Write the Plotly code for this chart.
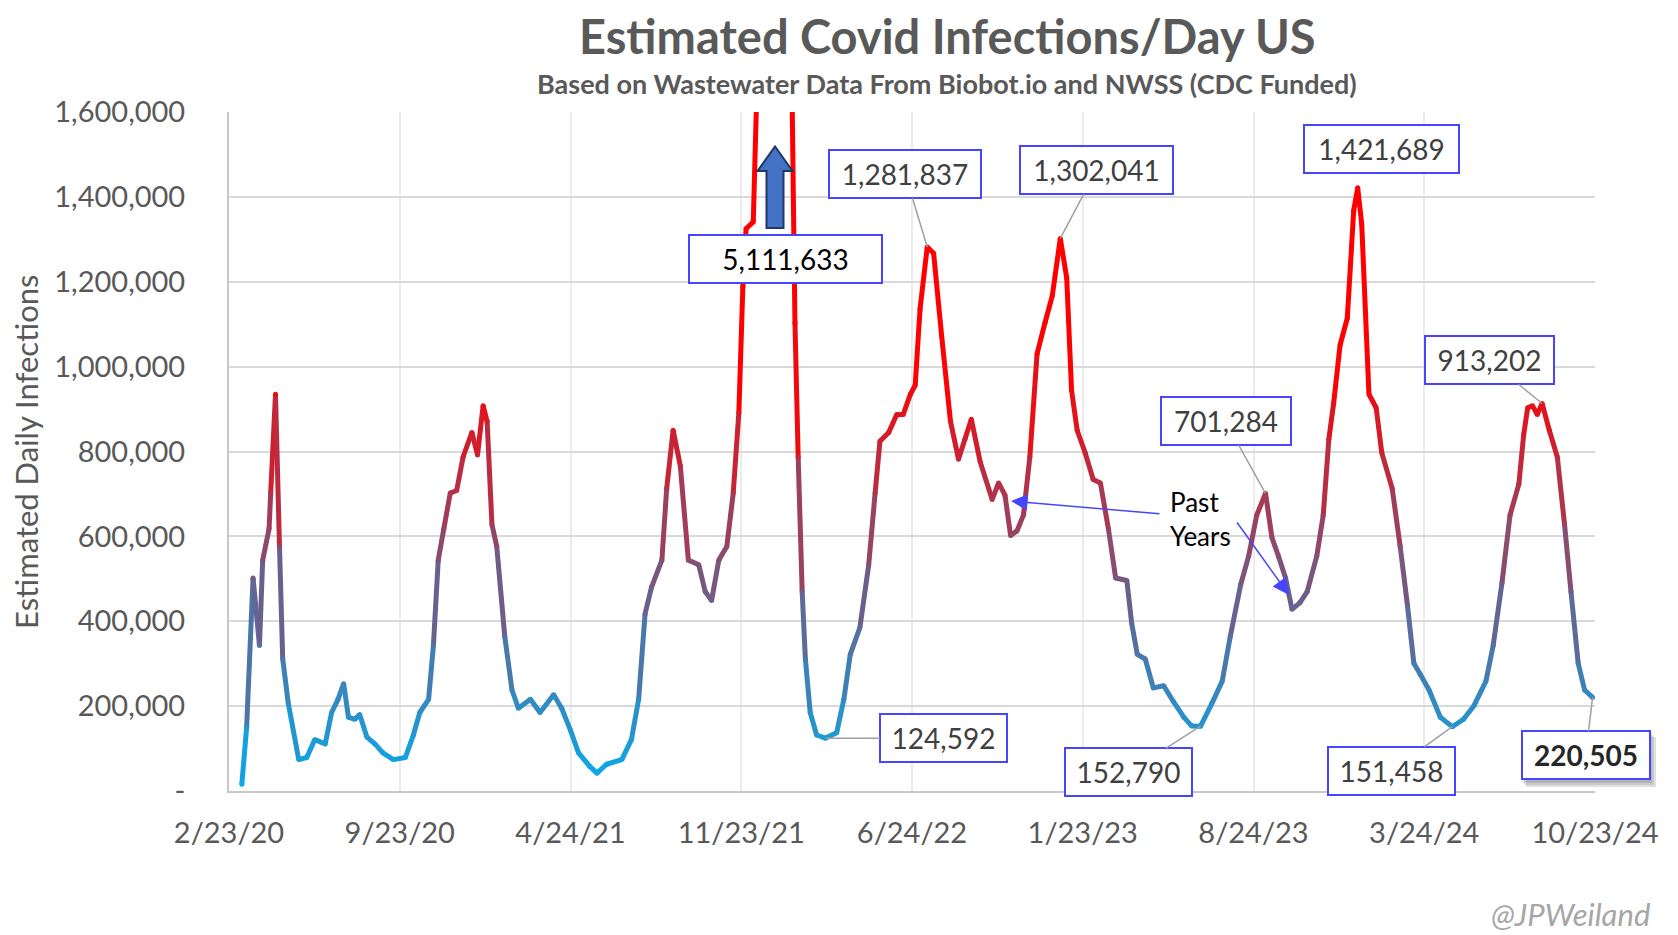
import plotly.graph_objects as go

# ---------------- data ----------------
dates = [
    "2020-03-10", "2020-03-16", "2020-03-24", "2020-04-01", "2020-04-05", "2020-04-13", "2020-04-15",
    "2020-04-21", "2020-04-26", "2020-04-30", "2020-05-07", "2020-05-20", "2020-05-30", "2020-06-09",
    "2020-06-22", "2020-06-30", "2020-07-08", "2020-07-15", "2020-07-21", "2020-07-29", "2020-08-04",
    "2020-08-13", "2020-08-23", "2020-09-02", "2020-09-15", "2020-09-30", "2020-10-10", "2020-10-18",
    "2020-10-29", "2020-11-04", "2020-11-10", "2020-11-17", "2020-11-25", "2020-12-03", "2020-12-11",
    "2020-12-22", "2020-12-29", "2021-01-05", "2021-01-10", "2021-01-16", "2021-01-22", "2021-02-01",
    "2021-02-10", "2021-02-18", "2021-03-05", "2021-03-17", "2021-04-03", "2021-04-13", "2021-04-24",
    "2021-05-04", "2021-05-18", "2021-05-27", "2021-06-08", "2021-06-27", "2021-07-09", "2021-07-18",
    "2021-07-26", "2021-08-03", "2021-08-16", "2021-08-22", "2021-08-30", "2021-09-08", "2021-09-18",
    "2021-10-01", "2021-10-09", "2021-10-17", "2021-10-26", "2021-11-05", "2021-11-13", "2021-11-20",
    "2021-11-25", "2021-11-29", "2021-12-08", "2021-12-12", "2021-12-19", "2022-01-06", "2022-01-18",
    "2022-01-25", "2022-01-29", "2022-02-02", "2022-02-07", "2022-02-11", "2022-02-17", "2022-02-25",
    "2022-03-08", "2022-03-22", "2022-03-31", "2022-04-08", "2022-04-20", "2022-05-01", "2022-05-09",
    "2022-05-15", "2022-05-26", "2022-06-05", "2022-06-13", "2022-06-22", "2022-06-28", "2022-07-04",
    "2022-07-13", "2022-07-21", "2022-07-31", "2022-08-11", "2022-08-21", "2022-08-29", "2022-09-06",
    "2022-09-17", "2022-10-02", "2022-10-10", "2022-10-18", "2022-10-25", "2022-11-02", "2022-11-10",
    "2022-11-18", "2022-11-27", "2022-12-07", "2022-12-16", "2022-12-26", "2023-01-03", "2023-01-09",
    "2023-01-16", "2023-01-26", "2023-02-05", "2023-02-14", "2023-02-24", "2023-03-05", "2023-03-19",
    "2023-03-25", "2023-04-01", "2023-04-11", "2023-04-21", "2023-05-04", "2023-05-16", "2023-05-29",
    "2023-06-08", "2023-06-19", "2023-07-03", "2023-07-16", "2023-07-26", "2023-08-08", "2023-08-18",
    "2023-08-28", "2023-09-08", "2023-09-16", "2023-09-24", "2023-10-03", "2023-10-11", "2023-10-21",
    "2023-10-30", "2023-11-11", "2023-11-19", "2023-11-26", "2023-12-02", "2023-12-10", "2023-12-19",
    "2023-12-27", "2024-01-01", "2024-01-06", "2024-01-15", "2024-01-24", "2024-01-31", "2024-02-13",
    "2024-02-23", "2024-03-03", "2024-03-11", "2024-03-19", "2024-03-30", "2024-04-13", "2024-04-28",
    "2024-05-12", "2024-05-25", "2024-06-09", "2024-06-18", "2024-06-29", "2024-07-09", "2024-07-20",
    "2024-07-26", "2024-07-31", "2024-08-06", "2024-08-12", "2024-08-18", "2024-08-27", "2024-09-06",
    "2024-09-15", "2024-09-23", "2024-10-02", "2024-10-10", "2024-10-20",
]
infections = [
    16000, 150000, 502000, 343000, 544000, 618000, 702000,
    935000, 576000, 311000, 206000, 74000, 79000, 121000,
    111000, 185000, 216000, 253000, 174000, 169000, 180000,
    127000, 111000, 90000, 74000, 79000, 132000, 185000,
    216000, 343000, 544000, 618000, 702000, 708000, 787000,
    845000, 792000, 908000, 871000, 628000, 576000, 364000,
    238000, 195000, 216000, 185000, 227000, 195000, 143000,
    90000, 58000, 42000, 63000, 74000, 121000, 216000,
    417000, 480000, 544000, 713000, 850000, 766000, 544000,
    533000, 470000, 449000, 544000, 576000, 702000, 892000,
    1188000, 1325000, 1341000, 1620000, 3200000, 5111633, 3000000,
    1700000, 1103000, 787000, 470000, 311000, 185000, 132000,
    124592, 137000, 216000, 322000, 385000, 533000, 702000,
    824000, 845000, 887000, 887000, 935000, 956000, 1135000,
    1281837, 1267000, 1072000, 871000, 782000, 829000, 876000,
    776000, 687000, 726000, 697000, 602000, 613000, 650000,
    787000, 1030000, 1104000, 1167000, 1302041, 1209000, 945000,
    850000, 797000, 734000, 726000, 618000, 502000, 496000,
    396000, 322000, 311000, 243000, 248000, 211000, 174000,
    153000, 152790, 206000, 259000, 364000, 486000, 554000,
    650000, 701284, 597000, 554000, 502000, 428000, 444000,
    470000, 554000, 650000, 829000, 914000, 1051000, 1114000,
    1368000, 1421689, 1336000, 935000, 903000, 797000, 713000,
    576000, 438000, 301000, 275000, 238000, 174000, 151458,
    169000, 201000, 259000, 343000, 491000, 650000, 723000,
    839000, 903000, 908000, 887000, 913202, 850000, 787000,
    628000, 470000, 301000, 238000, 220505,
]

x_tick_dates = ["2020-02-23", "2020-09-23", "2021-04-24", "2021-11-23", "2022-06-24",
                "2023-01-23", "2023-08-24", "2024-03-24", "2024-10-23"]
x_tick_labels = ["2/23/20", "9/23/20", "4/24/21", "11/23/21", "6/24/22",
                 "1/23/23", "8/24/23", "3/24/24", "10/23/24"]
y_tick_vals = [0, 200000, 400000, 600000, 800000, 1000000, 1200000, 1400000, 1600000]
y_tick_labels = ["-", "200,000", "400,000", "600,000", "800,000", "1,000,000",
                 "1,200,000", "1,400,000", "1,600,000"]

# callouts: (date, value) of labelled points
callout_dates = ["2022-07-13", "2022-12-26", "2024-01-01", "2024-08-18", "2023-09-08",
                 "2022-03-08", "2023-06-19", "2024-04-28", "2024-10-20"]
callout_values = [1281837, 1302041, 1421689, 913202, 701284, 124592, 152790, 151458, 220505]
peak_label = "5,111,633"

# ---------------- layout helpers ----------------
W, H = 1678, 935
OFF = 8  # page body margin
L, R, T, B = 221, 91, 104, 152
PW, PH = W - L - R, H - T - B
FONT = "Lato"
GREY = "#595959"
BOX = "#4646ff"


def paper(x, y):
    """screen pixel -> paper coords"""
    return (x - OFF - L) / PW, (H - B - (y - OFF)) / PH


STOPS = [(0, (0, 176, 240)), (450000, (106, 96, 140)), (1000000, (255, 0, 0))]


def col(v):
    v = max(0, min(STOPS[-1][0], v))
    for (v0, c0), (v1, c1) in zip(STOPS, STOPS[1:]):
        if v <= v1:
            t = (v - v0) / (v1 - v0)
            return "rgb(%d,%d,%d)" % tuple(round(a + (b - a) * t) for a, b in zip(c0, c1))
    return "rgb(255,0,0)"


fig = go.Figure()
for i in range(len(dates) - 1):
    fig.add_trace(go.Scatter(
        x=[dates[i], dates[i + 1]], y=[infections[i], infections[i + 1]],
        mode="lines", line=dict(color=col((infections[i] + infections[i + 1]) / 2), width=5),
        hoverinfo="skip", showlegend=False))
fig.add_trace(go.Scatter(
    x=dates, y=infections, mode="markers",
    marker=dict(color=[col(v) for v in infections], size=5, line=dict(width=0)),
    showlegend=False, hovertemplate="%{x}<br>%{y:,}<extra></extra>"))

annotations = []
shapes = []


def text_at(x, y, text, size, color=GREY, **kw):
    ax_, ay_ = paper(x, y)
    d = dict(xref="paper", yref="paper", x=ax_, y=ay_, showarrow=False, text=text,
             xanchor="center", yanchor="middle", font=dict(family=FONT, size=size, color=color))
    d.update(kw)
    annotations.append(d)


text_at(947, 36, "<b>Estimated Covid Infections/Day US</b>", 47)
text_at(947, 84, "<b>Based on Wastewater Data From Biobot.io and NWSS (CDC Funded)</b>", 27)
text_at(26, 452, "Estimated Daily Infections", 31, textangle=-90)
text_at(1570, 914, "<i>@JPWeiland</i>", 31, color="#a6a6a6")

# callout boxes with leader lines (offsets in px from the data point)
offsets = [(-22, -73), (36, -68), (24, -39), (-53, -43), (-40, -72),
           (118, 0), (-72, 46), (-61, 44), (-7, 58)]
widths = [154, 155, 157, 131, 132, 129, 129, 129, 130]
for k, (d, v) in enumerate(zip(callout_dates, callout_values)):
    ax, ay = offsets[k]
    last = (k == len(callout_dates) - 1)
    annotations.append(dict(
        x=d, y=v, xref="x", yref="y", ax=ax, ay=ay, showarrow=True, arrowhead=0,
        arrowwidth=1.5, arrowcolor="#a0a0a0" if k != 2 else "rgba(0,0,0,0)",
        text=("<b>%s</b>" % f"{v:,}") if last else f"{v:,}",
        font=dict(family=FONT, size=28, color="#262626" if last else "#404040"),
        bgcolor="white", bordercolor=BOX, borderwidth=2, borderpad=1,
        width=widths[k] - 6, height=44, align="center", valign="middle"))

# shadow for last callout
for j, a in enumerate([0.10, 0.10, 0.12]):
    off = 2 + 2 * j
    x0, y0 = paper(1520 + off, 731 + off)
    x1, y1 = paper(1650 + off, 781 + off)
    shapes.append(dict(type="rect", xref="paper", yref="paper", x0=x0, y0=y0, x1=x1, y1=y1,
                       fillcolor="rgba(0,0,0,%.2f)" % a, line=dict(width=0), layer="above"))

# peak label (off chart)
text_at(785.5, 259, peak_label, 28, color="black", bgcolor="white", bordercolor=BOX,
        borderwidth=2, borderpad=1, width=189, height=44)

# block arrow pointing up
cx = 775
pts = [(cx - 8.5, 228), (cx - 8.5, 171), (cx - 17.5, 171), (cx, 146.5),
       (cx + 17.5, 171), (cx + 8.5, 171), (cx + 8.5, 228)]
path = "M " + " L ".join("%.5f,%.5f" % paper(x, y) for x, y in pts) + " Z"
shapes.append(dict(type="path", xref="paper", yref="paper", path=path,
                   fillcolor="#4472c4", line=dict(color="#1f3864", width=2), layer="above"))

# "Past Years" note and arrows
text_at(1168, 519, "Past<br>Years", 26, color="black", xanchor="left", align="left")
h1x, h1y = paper(1011, 501)
annotations.append(dict(xref="paper", yref="paper", x=h1x, y=h1y, ax=150, ay=13,
                        text="", showarrow=True, arrowhead=2, arrowsize=2.2,
                        arrowwidth=1.5, arrowcolor=BOX))
h2x, h2y = paper(1289, 595)
annotations.append(dict(xref="paper", yref="paper", x=h2x, y=h2y, ax=-53, ay=-74,
                        text="", showarrow=True, arrowhead=2, arrowsize=2.2,
                        arrowwidth=1.5, arrowcolor=BOX))

fig.update_layout(
    width=W, height=H, margin=dict(l=L, r=R, t=T, b=B, pad=0, autoexpand=False),
    paper_bgcolor="white", plot_bgcolor="white", showlegend=False,
    font=dict(family=FONT, color=GREY),
    xaxis=dict(type="date", range=["2020-02-23", "2024-10-23"], tickvals=x_tick_dates,
               ticktext=x_tick_labels, showgrid=True, gridcolor="#ececec", gridwidth=2,
               showline=True, linecolor="#c8c8c8", linewidth=2, ticks="",
               tickfont=dict(family=FONT, size=29, color=GREY), ticklabelstandoff=15,
               zeroline=False, automargin=False),
    yaxis=dict(range=[0, 1600000], tickvals=y_tick_vals, ticktext=y_tick_labels,
               showgrid=True, gridcolor="#d9d9d9", gridwidth=2, showline=True,
               linecolor="#c8c8c8", linewidth=2, ticks="", zeroline=False,
               tickfont=dict(family=FONT, size=29, color=GREY), ticklabelstandoff=36,
               automargin=False),
    annotations=annotations, shapes=shapes,
)

fig.write_html("out.html")
